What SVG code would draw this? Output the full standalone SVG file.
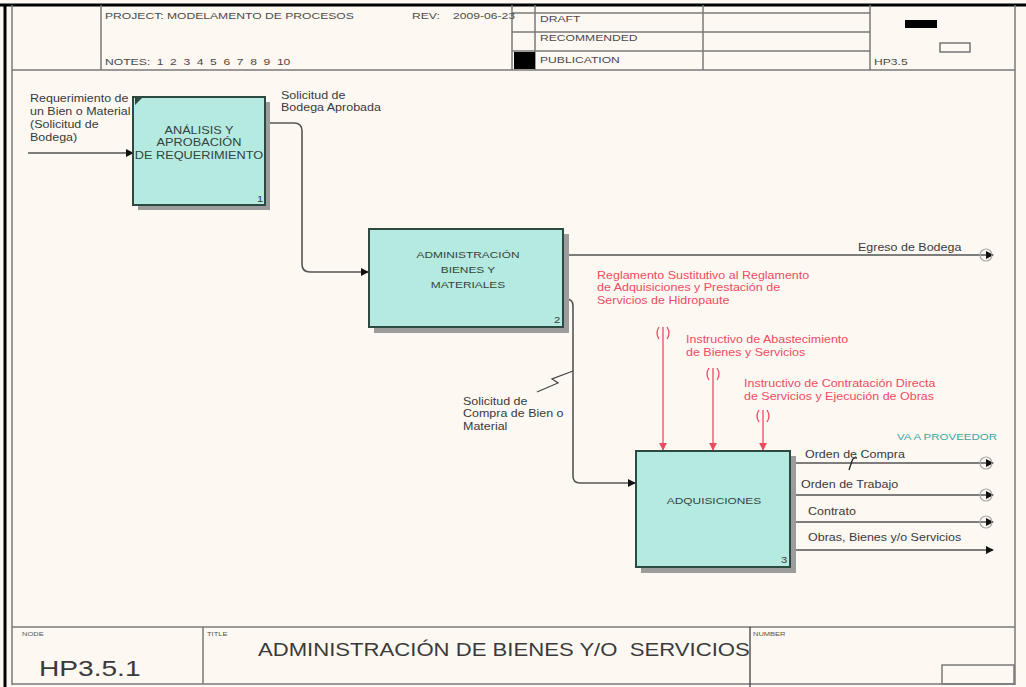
<svg xmlns="http://www.w3.org/2000/svg" width="1026" height="687" viewBox="0 0 1026 687">
<style>
  .t{font-family:"Liberation Sans",Arial,sans-serif;fill:#3a3a3a}
  .lbl{font-size:10px}
  .hdr{font-size:9.7px;fill:#4a4a4a}
  .tiny{font-size:6px;fill:#555}
  .box{fill:#b5eae0;stroke:#2c4a40;stroke-width:2}
  .shadow{fill:#9c9c9c}
  .boxt{font-size:9.5px;fill:#34443e;text-anchor:middle}
  .red{fill:#ef4b62}
  .teal{fill:#3aa6a0}
  .frame{stroke:#7a7a7a;stroke-width:1.5;fill:none}
  .conn{stroke:#555;stroke-width:1.6;fill:none}
  .rconn{stroke:#ee4a60;stroke-width:1.3;fill:none}
</style>
<defs>
  <marker id="ah" viewBox="0 0 10 10" refX="9" refY="5" markerWidth="8" markerHeight="8" markerUnits="userSpaceOnUse" orient="auto">
    <path d="M0,0 L10,5 L0,10 z" fill="#111"/>
  </marker>
  <marker id="rah" viewBox="0 0 10 10" refX="9" refY="5" markerWidth="8" markerHeight="8" markerUnits="userSpaceOnUse" orient="auto">
    <path d="M0,0 L10,5 L0,10 z" fill="#ee4a60"/>
  </marker>
</defs>
<rect width="1026" height="687" fill="#fdf8f2"/>

<g id="frame">
  <line x1="0" y1="5" x2="1026" y2="5" stroke="#000" stroke-width="3"/>
  <line x1="5" y1="5" x2="5" y2="687" stroke="#000" stroke-width="3"/>
  <line class="frame" x1="12" y1="5" x2="12" y2="685"/>
  <line class="frame" x1="1015" y1="5" x2="1015" y2="685"/>
  <line class="frame" x1="12" y1="70" x2="1015" y2="70"/>
  <line class="frame" x1="101" y1="5" x2="101" y2="70"/>
  <line class="frame" x1="512" y1="5" x2="512" y2="70"/>
  <line class="frame" x1="535" y1="5" x2="535" y2="70"/>
  <line class="frame" x1="703" y1="5" x2="703" y2="70"/>
  <line class="frame" x1="870" y1="5" x2="870" y2="70"/>
  <line class="frame" x1="512" y1="13" x2="870" y2="13"/>
  <line class="frame" x1="512" y1="32" x2="870" y2="32"/>
  <line class="frame" x1="512" y1="51" x2="870" y2="51"/>
  <rect x="514" y="52" width="21" height="17" fill="#000"/>
  <rect x="905" y="20" width="32" height="8" fill="#000"/>
  <rect x="940" y="43" width="30" height="9" fill="none" stroke="#555" stroke-width="1.2"/>
  <line class="frame" x1="12" y1="627" x2="1015" y2="627"/>
  <line class="frame" x1="12" y1="684" x2="1015" y2="684"/>
  <line class="frame" x1="203" y1="627" x2="203" y2="684"/>
  <line x1="750" y1="627" x2="750" y2="687" stroke="#333" stroke-width="1.2"/>
  <rect x="942" y="665" width="72" height="19" fill="none" stroke="#7a7a7a" stroke-width="1.5"/>

  <text class="t hdr" transform="translate(105,19) scale(1.25,1)">PROJECT:  MODELAMENTO DE PROCESOS</text>
  <text class="t hdr" transform="translate(412,19) scale(1.25,1)">REV:</text>
  <text class="t hdr" transform="translate(453,19) scale(1.25,1)">2009-06-23</text>
  <text class="t hdr" word-spacing="2.6" transform="translate(105,65) scale(1.25,1)">NOTES: 1 2 3 4 5 6 7 8 9 10</text>
  <text class="t hdr" transform="translate(540,22) scale(1.25,1)">DRAFT</text>
  <text class="t hdr" transform="translate(540,41) scale(1.25,1)">RECOMMENDED</text>
  <text class="t hdr" transform="translate(540,63) scale(1.25,1)">PUBLICATION</text>
  <text class="t hdr" transform="translate(874,65) scale(1.25,1)">HP3.5</text>

  <text class="t tiny" transform="translate(22,636) scale(1.25,1)">NODE</text>
  <text class="t tiny" transform="translate(207,636) scale(1.25,1)">TITLE</text>
  <text class="t tiny" transform="translate(753,636) scale(1.25,1)">NUMBER</text>
  <text class="t" font-size="22.5" transform="translate(39,676) scale(1.25,1)">HP3.5.1</text>
  <text class="t" font-size="17.7" fill="#2e2e2e" transform="translate(258,656) scale(1.25,1)" xml:space="preserve">ADMINISTRACIÓN DE BIENES Y/O  SERVICIOS</text>
</g>

<g id="connectors">
  <path class="conn" d="M28,153 H133" marker-end="url(#ah)"/>
  <path class="conn" d="M265,123 H294 Q302,123 302,131 V264 Q302,272 310,272 H368" marker-end="url(#ah)"/>
  <path class="conn" d="M563,255 H993" marker-end="url(#ah)"/>
  <circle cx="986" cy="255" r="6" fill="none" stroke="#aaa" stroke-width="1.2"/>
  <path class="conn" d="M563,299 H566 Q573,299 573,306 V476 Q573,483 580,483 H635" marker-end="url(#ah)"/>
  <path d="M537,392 L558,383 L552,379 L573,371" fill="none" stroke="#444" stroke-width="1.2"/>

  <path class="conn" d="M790,463 H993" marker-end="url(#ah)"/>
  <circle cx="986" cy="463" r="6" fill="none" stroke="#aaa" stroke-width="1.2"/>
  <path class="conn" d="M790,495 H993" marker-end="url(#ah)"/>
  <circle cx="986" cy="495" r="6" fill="none" stroke="#aaa" stroke-width="1.2"/>
  <path class="conn" d="M790,522 H993" marker-end="url(#ah)"/>
  <circle cx="986" cy="522" r="6" fill="none" stroke="#aaa" stroke-width="1.2"/>
  <path class="conn" d="M790,550 H993" marker-end="url(#ah)"/>
  <path d="M849,470 L852,461 Q853,457 857,458" fill="none" stroke="#222" stroke-width="1.3"/>

  <path class="rconn" d="M663,327 V450" marker-end="url(#rah)"/>
  <path class="rconn" d="M659,327 Q655,333 659,339 M667,327 Q671,333 667,339"/>
  <path class="rconn" d="M713,368 V450" marker-end="url(#rah)"/>
  <path class="rconn" d="M709,368 Q705,374 709,380 M717,368 Q721,374 717,380"/>
  <path class="rconn" d="M763,410 V450" marker-end="url(#rah)"/>
  <path class="rconn" d="M759,410 Q755,416 759,422 M767,410 Q771,416 767,422"/>
</g>

<g id="labels">
  <text class="t lbl" transform="translate(30,102) scale(1.25,1)"><tspan x="0">Requerimiento de</tspan><tspan x="0" dy="13">un Bien o Material</tspan><tspan x="0" dy="13">(Solicitud de</tspan><tspan x="0" dy="13">Bodega)</tspan></text>
  <text class="t lbl" transform="translate(281,99) scale(1.25,1)"><tspan x="0">Solicitud de</tspan><tspan x="0" dy="12">Bodega Aprobada</tspan></text>
  <text class="t lbl" transform="translate(858,251) scale(1.25,1)">Egreso de Bodega</text>
  <text class="t lbl" transform="translate(463,405) scale(1.25,1)"><tspan x="0">Solicitud de</tspan><tspan x="0" dy="12.5">Compra de Bien o</tspan><tspan x="0" dy="12.5">Material</tspan></text>
  <text class="t lbl red" transform="translate(597,279) scale(1.25,1)"><tspan x="0">Reglamento Sustitutivo al Reglamento</tspan><tspan x="0" dy="12.5">de Adquisiciones y Prestación de</tspan><tspan x="0" dy="12.5">Servicios de Hidropaute</tspan></text>
  <text class="t lbl red" transform="translate(686,343) scale(1.25,1)"><tspan x="0">Instructivo de Abastecimiento</tspan><tspan x="0" dy="13.5">de Bienes y Servicios</tspan></text>
  <text class="t lbl red" transform="translate(744,387) scale(1.25,1)"><tspan x="0">Instructivo de Contratación Directa</tspan><tspan x="0" dy="13.5">de Servicios y Ejecución de Obras</tspan></text>
  <text class="t teal" font-size="9.2" transform="translate(897,440) scale(1.25,1)">VA A PROVEEDOR</text>
  <text class="t lbl" transform="translate(805,458) scale(1.25,1)">Orden de Compra</text>
  <text class="t lbl" transform="translate(801,488) scale(1.25,1)">Orden de Trabajo</text>
  <text class="t lbl" transform="translate(808,515) scale(1.25,1)">Contrato</text>
  <text class="t lbl" transform="translate(808,541) scale(1.25,1)">Obras, Bienes y/o Servicios</text>
</g>

<g id="node1">
  <rect class="shadow" x="138" y="102" width="132" height="108"/>
  <rect class="box" x="133" y="97" width="132" height="108"/>
  <path d="M135,98 L142,98 L135,105 z" fill="#2c4a40"/>
  <text class="t boxt" style="font-size:10.2px" transform="translate(199,134) scale(1.25,1)"><tspan x="0">ANÁLISIS Y</tspan><tspan x="0" dy="12.5">APROBACIÓN</tspan><tspan x="0" dy="12.5">DE REQUERIMIENTO</tspan></text>
  <text class="t" font-size="9" transform="translate(257,202) scale(1.25,1)">1</text>
</g>

<g id="node2">
  <rect class="shadow" x="374" y="234" width="195" height="99"/>
  <rect class="box" x="369" y="229" width="194" height="98"/>
  <text class="t boxt" transform="translate(468,258) scale(1.25,1)"><tspan x="0">ADMINISTRACIÓN</tspan><tspan x="0" dy="15">BIENES Y</tspan><tspan x="0" dy="15">MATERIALES</tspan></text>
  <text class="t" font-size="9" transform="translate(554,323) scale(1.25,1)">2</text>
</g>

<g id="node3">
  <rect class="shadow" x="641" y="456" width="155" height="117"/>
  <rect class="box" x="636" y="451" width="154" height="116"/>
  <text class="t boxt" transform="translate(714,504) scale(1.25,1)">ADQUISICIONES</text>
  <text class="t" font-size="9" transform="translate(781,563) scale(1.25,1)">3</text>
</g>
</svg>
